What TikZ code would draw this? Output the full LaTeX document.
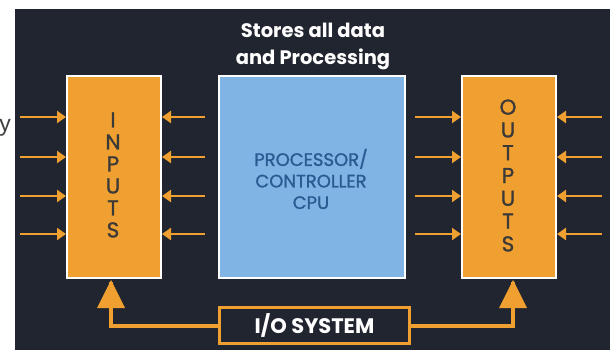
\documentclass[tikz,border=0pt]{standalone}
\usepackage{fontspec}
\setmainfont{Poppins}
\newfontfamily\popmed{Poppins}[FakeBold=1.2]
\usetikzlibrary{arrows.meta}
\definecolor{bgdark}{HTML}{21252F}
\definecolor{orng}{HTML}{F0A030}
\definecolor{cpublue}{HTML}{80B4E4}
\definecolor{cputext}{HTML}{2A5A92}
\definecolor{lettertext}{HTML}{3C3A38}
\tikzset{
  x=1pt, y=-1pt,
  unitbox/.style={draw=white, line width=2pt, inner sep=0pt, anchor=north west},
  smallarrow/.style={draw=orng, line width=2.4pt, -{Triangle[length=9pt,width=12pt]}},
  busline/.style={draw=orng, line width=3.5pt, line join=miter},
}
\begin{document}
\begin{tikzpicture}
\useasboundingbox (0,0) rectangle (613,350);
\fill[bgdark] (15,9) rectangle (610,350);
\node[text=black!75, font=\fontspec{Liberation Sans}\fontsize{23}{25}\selectfont, inner sep=0pt] (ylet) at (5,128) {y};

% title
\node[text=white, font=\bfseries\fontsize{19.5}{27}\selectfont, align=center, inner sep=0pt] (title) at (313,46) {Stores all data\\and Processing};

% boxes
\node[unitbox, fill=orng, minimum width=94pt, minimum height=202pt] (inputs) at (66,75) {};
\node[unitbox, fill=cpublue, minimum width=186pt, minimum height=202pt] (cpu) at (218,75) {};
\node[unitbox, fill=orng, minimum width=94pt, minimum height=202pt] (outputs) at (461,75) {};

\node[text=lettertext, font=\popmed\fontsize{21.5}{22}\selectfont, align=center, inner sep=0pt] (inlbl) at (113,175) {I\\N\\P\\U\\T\\S};
\node[text=lettertext, font=\popmed\fontsize{21.5}{22.8}\selectfont, align=center, inner sep=0pt] (outlbl) at (508,175.5) {O\\U\\T\\P\\U\\T\\S};
\node[text=cputext, font=\popmed\fontsize{18}{21.5}\selectfont, align=center, inner sep=0pt] (cpulbl) at (311,179) {PROCESSOR/\\CONTROLLER\\CPU};

% small arrows
\foreach \i/\yy in {1/117,2/157,3/196,4/234}{
  \coordinate (la\i) at (20,\yy);
  \coordinate (lb\i) at (205,\yy);
  \coordinate (ra\i) at (415,\yy);
  \coordinate (rb\i) at (602,\yy);
  \draw[smallarrow] (la\i) -- (la\i -| inputs.west);
  \draw[smallarrow] (lb\i) -- (lb\i -| inputs.east);
  \draw[smallarrow] (ra\i) -- (ra\i -| outputs.west);
  \draw[smallarrow] (rb\i) -- (rb\i -| outputs.east);
}

% I/O system
\node[draw=orng, line width=3pt, fill=bgdark, anchor=north west, minimum width=190pt, minimum height=36pt, inner sep=0pt] (io) at (218,306) {};
\node[text=white, font=\bfseries\fontsize{21}{24}\selectfont, inner sep=0pt] (iolbl) at (io.center) {I/O SYSTEM};
\coordinate (lcorner) at (111,326);
\coordinate (rcorner) at (513,326);
\coordinate (ltip) at (111,282);
\coordinate (rtip) at (513,282);
\draw[busline] (io.west |- lcorner) -- (lcorner) -- (ltip);
\draw[busline] (io.east |- rcorner) -- (rcorner) -- (rtip);
\fill[orng] (111,280) -- (97,308) -- (125,308) -- cycle;
\fill[orng] (513,280) -- (499,308) -- (527,308) -- cycle;
\end{tikzpicture}
\end{document}
